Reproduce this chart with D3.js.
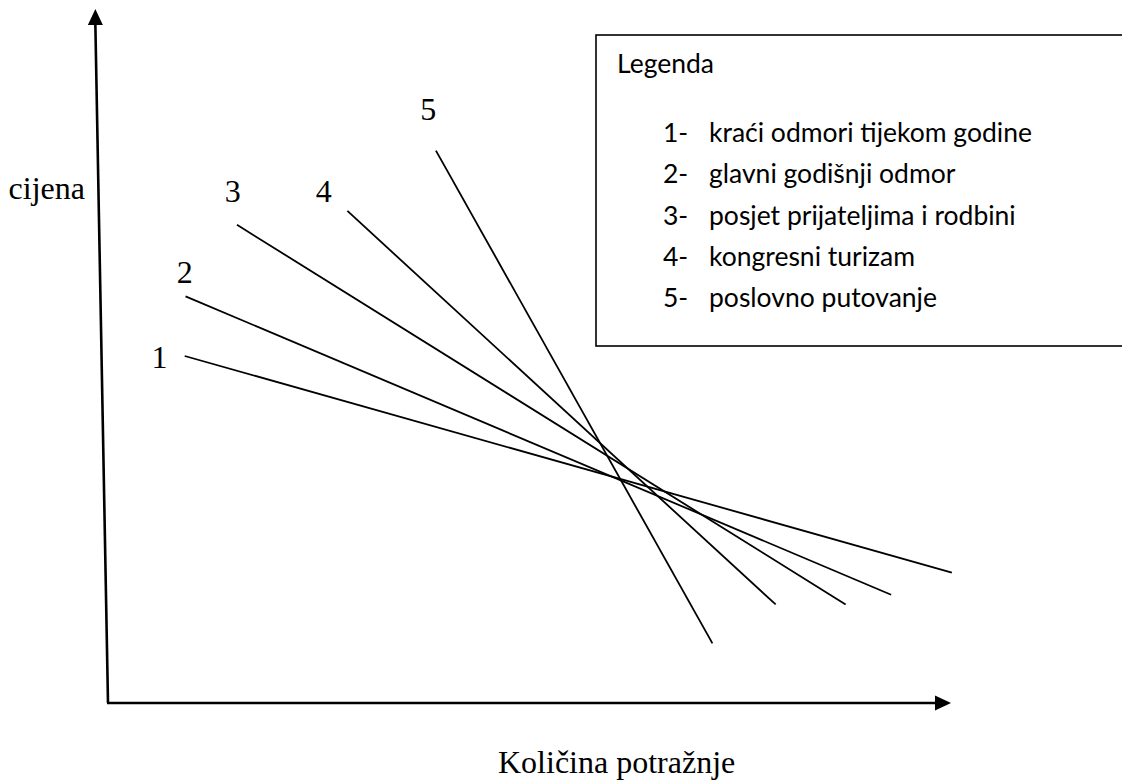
<!DOCTYPE html>
<html>
<head>
<meta charset="utf-8">
<script src="https://cdn.jsdelivr.net/npm/d3@7"></script>
<style>
  html, body { margin: 0; padding: 0; background: #fff; overflow: hidden; }
  svg { display: block; }
</style>
</head>
<body>
<svg id="chart" width="1122" height="781"></svg>
<script>
// ---- data (relative units on 0..100 axes) ----
const seriesIds   = ["1", "2", "3", "4", "5"];
const seriesNames = [
  "kraći odmori tijekom godine",
  "glavni godišnji odmor",
  "posjet prijateljima i rodbini",
  "kongresni turizam",
  "poslovno putovanje"
];
const startQty   = [9.1, 9.2, 15.3, 28.4, 38.9];
const startPrice = [50.0, 58.6, 68.9, 70.9, 79.6];
const endQty     = [100.1, 92.9, 87.5, 79.2, 71.7];
const endPrice   = [18.8, 15.6, 14.2, 14.2, 8.6];
const labelQty   = [6.1, 9.1, 14.8, 25.6, 38.0];
const labelPrice = [48.3, 60.5, 72.2, 72.2, 84.0];
const yAxisTitle = "cijena";
const xAxisTitle = "Količina potražnje";
const legendTitle = "Legenda";

// ---- scales ----
const svg = d3.select("#chart");
const x = d3.scaleLinear().domain([0, 100]).range([108, 951]);
const y = d3.scaleLinear().domain([0, 100]).range([703, 9]);

// ---- axes (arrows) ----
const axisTopQty = -1.5;
const ah = 16, aw = 7.5;
// y axis (slightly slanted, as in the reference)
svg.append("line")
  .attr("x1", x(0)).attr("y1", y(0))
  .attr("x2", x(axisTopQty)).attr("y2", y(100) + ah - 1)
  .attr("stroke", "#000").attr("stroke-width", 2.6);
svg.append("path")
  .attr("d", `M${x(axisTopQty)},${y(100)} L${x(axisTopQty) - aw},${y(100) + ah} L${x(axisTopQty) + aw},${y(100) + ah} Z`)
  .attr("fill", "#000");
// x axis
svg.append("line")
  .attr("x1", x(0) - 1).attr("y1", y(0))
  .attr("x2", x(100) - ah + 1).attr("y2", y(0))
  .attr("stroke", "#000").attr("stroke-width", 2.6);
svg.append("path")
  .attr("d", `M${x(100)},${y(0)} L${x(100) - ah},${y(0) - aw} L${x(100) - ah},${y(0) + aw} Z`)
  .attr("fill", "#000");

// ---- demand lines ----
const lines = seriesIds.map((id, i) => ({
  id,
  x1: startQty[i], y1: startPrice[i],
  x2: endQty[i], y2: endPrice[i],
  lx: labelQty[i], ly: labelPrice[i]
}));

svg.append("g").selectAll("line")
  .data(lines).join("line")
  .attr("x1", d => x(d.x1)).attr("y1", d => y(d.y1))
  .attr("x2", d => x(d.x2)).attr("y2", d => y(d.y2))
  .attr("stroke", "#000").attr("stroke-width", 1.8);

svg.append("g").selectAll("text")
  .data(lines).join("text")
  .attr("x", d => x(d.lx)).attr("y", d => y(d.ly))
  .attr("text-anchor", "middle")
  .attr("font-family", "'Liberation Serif', 'Times New Roman', serif")
  .attr("font-size", 32)
  .attr("fill", "#000")
  .text(d => d.id);

// ---- axis titles ----
svg.append("text")
  .attr("x", 85).attr("y", 199)
  .attr("text-anchor", "end")
  .attr("font-family", "'Liberation Serif', 'Times New Roman', serif")
  .attr("font-size", 32)
  .text(yAxisTitle);

svg.append("text")
  .attr("x", 498).attr("y", 773)
  .attr("font-family", "'Liberation Serif', 'Times New Roman', serif")
  .attr("font-size", 32)
  .text(xAxisTitle);

// ---- legend ----
const lg = svg.append("g");
lg.append("rect")
  .attr("x", 596).attr("y", 35)
  .attr("width", 620).attr("height", 311)
  .attr("fill", "#fff").attr("stroke", "#000").attr("stroke-width", 1.6);

const legFont = "Lato, 'Open Sans', sans-serif";
const legSize = 26.5;
lg.append("text")
  .attr("x", 617).attr("y", 73)
  .attr("font-family", legFont).attr("font-size", legSize)
  .text(legendTitle);

const rowY = d3.scalePoint().domain(seriesIds).range([142, 307]);
const items = lg.append("g").selectAll("g")
  .data(seriesIds).join("g");
items.append("text")
  .attr("x", 663).attr("y", d => rowY(d))
  .attr("font-family", legFont).attr("font-size", legSize)
  .text(d => d + "-");
items.append("text")
  .attr("x", 709).attr("y", d => rowY(d))
  .attr("font-family", legFont).attr("font-size", legSize)
  .text((d, i) => seriesNames[i]);
</script>
</body>
</html>
